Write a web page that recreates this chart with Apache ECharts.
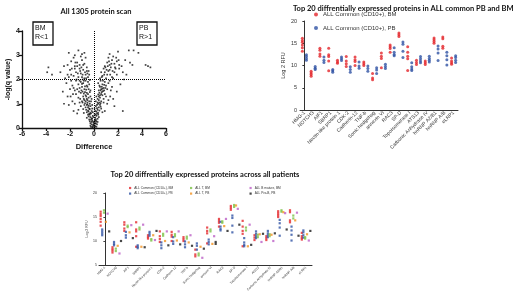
<!DOCTYPE html>
<html lang="en">
<head>
<meta charset="UTF-8">
<title>protein scan</title>
<script src="https://cdn.jsdelivr.net/npm/echarts@6/dist/echarts.min.js"></script>
<style>
  html, body { margin: 0; padding: 0; background: #fff; }
  #chart { width: 520px; height: 300px; }
</style>
</head>
<body>
<div id="chart"></div>
<script>
  // volcano plot, [difference, -log(q value)]
  let volcano = [
    [-0.1,0.05],[0,0.1],[0.1,0.08],[-0.2,0.15],[0.15,0.2],[-0.05,0.25],[-0.3,0.2],[0.05,0.3],[0.25,0.15],[-0.15,0.3],
    [0.2,0.28],[-0.25,0.05],[0.1,0.18],[-0.08,0.12],[0.3,0.25],[-0.35,0.28],[0,0.22],[-0.12,0.02],[0.05,0.04],[-0.02,0.16],
    [-0.4,0.35],[-0.3,0.45],[-0.2,0.4],[-0.1,0.5],[0.1,0.42],[0.2,0.5],[0.3,0.38],[-0.5,0.55],[0.35,0.55],[-0.45,0.48],
    [0.05,0.58],[-0.25,0.6],[0.25,0.6],[-0.6,0.42],[0.4,0.45],[-0.15,0.38],[0.15,0.35],[-0.35,0.55],
    [-0.6,0.65],[-0.5,0.72],[-0.4,0.8],[-0.3,0.9],[-0.7,0.85],[-0.8,0.95],[-0.2,0.7],[0.2,0.68],[0.3,0.75],[0.4,0.85],
    [0.5,0.95],[0.35,0.62],[0.6,0.8],[-0.9,0.78],[-0.55,0.98],[0.15,0.9],[-1.1,0.9],[-1.7,0.7],[0.9,0.7],[2.4,0.7],
    [-1.4,0.6],[0.7,0.65],[-0.15,0.95],[0.45,0.72],[-0.45,0.68],[-0.65,0.75],[0.25,0.82],[-0.35,0.78],
    [-1.2,1.05],[-1,1.1],[-0.8,1.15],[-0.6,1.2],[-0.4,1.1],[-0.3,1.3],[-0.5,1.4],[-0.7,1.35],[-0.9,1.3],[-1.1,1.45],
    [-1.3,1.25],[-1.5,1.4],[0.3,1.05],[0.4,1.15],[0.5,1.25],[0.6,1.1],[0.7,1.35],[0.8,1.2],[0.45,1.45],[0.9,1.4],
    [1.0,1.3],[1.2,1.15],[-0.2,1.2],[0.2,1.3],[-1.8,1.1],[-2.2,1.3],[1.6,1.2],[-0.35,1.48],[0.65,1.48],[-0.75,1.02],
    [-1.6,1.0],[-0.55,1.05],[-0.85,1.42],[0.35,1.38],[0.55,1.02],[-0.45,1.25],
    [-1.6,1.55],[-1.4,1.6],[-1.2,1.65],[-1,1.7],[-0.8,1.6],[-0.6,1.75],[-0.4,1.8],[-0.3,1.55],[-0.5,1.9],[-0.7,1.95],
    [-0.9,1.85],[-1.1,1.9],[-1.3,1.8],[-1.5,1.95],[-1.8,1.75],[-2,1.6],[0.4,1.55],[0.5,1.7],[0.6,1.6],[0.7,1.8],
    [0.8,1.65],[0.9,1.9],[1.0,1.75],[1.1,1.6],[1.2,1.85],[1.3,1.95],[0.55,1.95],[0.75,1.52],[-2.3,1.85],[-2.6,1.5],
    [1.5,1.7],[-0.35,1.98],[0.35,1.85],[-1.9,1.95],[-1.7,1.65],[1.4,1.55],[-0.65,1.58],[-1.05,1.55],[0.85,1.78],
    [-2.4,2.05],[-2.1,2.1],[-1.9,2.2],[-1.7,2.15],[-1.5,2.3],[-1.3,2.1],[-1.1,2.25],[-0.9,2.4],[-0.7,2.2],[-0.5,2.1],
    [-0.6,2.35],[-1.2,2.45],[-1.6,2.45],[-2,2.4],[-0.8,2.05],[0.5,2.05],[0.7,2.15],[0.9,2.3],[1.1,2.2],[1.3,2.4],
    [1.5,2.1],[1.7,2.3],[1.9,2.2],[2.1,2.45],[0.8,2.45],[1.0,2.05],[1.2,2.35],[1.4,2.5],[1.6,2.05],[2.4,2.3],
    [2.7,2.2],[-3.9,2.3],[-3.5,2.2],[-2.8,2.3],[0.6,2.3],[-1.0,2.1],[1.8,2.45],[-0.4,2.2],
    [-2.2,2.6],[-1.9,2.75],[-1.6,2.55],[-1.4,2.7],[-1.2,2.6],[-1,2.8],[-0.8,2.65],[-0.6,2.5],[-1.7,2.9],[-1.1,2.95],
    [0.9,2.55],[1.1,2.7],[1.3,2.6],[1.5,2.8],[1.7,2.65],[1.9,2.75],[2.1,2.6],[1.2,2.9],[1.6,2.95],[2.3,2.55],
    [3.0,2.7],[3.2,2.6],[4.3,2.6],[4.7,2.5],[4.5,2.55],[-3.8,2.5],[2.6,2.8],[-2.5,2.55],[-0.7,2.9],
    [-1.3,3.2],[-1.0,3.05],[-2.1,3.1],[-0.8,3.1],[2.0,3.15],[2.9,3.2],[3.3,3.2],[1.3,3.05],[-1.6,3.0],[3.7,3.1],
    [-0.25,0.35],[-0.3,0.62],[-0.4,0.58],[-0.5,0.85],[-0.6,0.95],[-0.45,0.92],[-0.7,1.1],[-0.55,1.15],[-0.65,1.3],[-0.85,1.2],
    [-0.95,1.5],[-0.75,1.48],[-0.6,1.45],[-0.45,1.6],[-0.55,1.7],[-0.75,1.72],[-0.85,1.95],[-1.0,1.82],[-1.2,1.95],[-0.95,2.0],
    [-0.65,2.05],[-0.45,2.35],[-0.55,2.25],[-0.75,2.3],[-0.95,2.2],[-1.15,2.35],[-1.35,2.25],[-1.45,2.0],[-1.25,1.5],[-1.15,1.2],
    [-0.95,1.05],[-0.35,1.0],[-0.25,1.1],[-0.15,0.8],[-0.1,0.65],[-0.05,0.45],[-0.2,0.25],[-0.3,0.1],[-1.4,2.55],[-1.85,2.45],
    [-1.55,2.7],[-0.9,2.6],[-1.05,2.5],[-2.2,2.2],[-1.75,1.4],[-1.95,1.3],[-2.1,0.95],[-1.3,0.75],[-0.85,0.62],[-2.5,1.0],
    [0.15,0.55],[0.1,0.7],[0.25,0.95],[0.35,1.0],[0.3,1.2],[0.5,1.35],[0.4,1.3],[0.6,1.4],[0.55,1.55],[0.65,1.7],
    [0.45,1.75],[0.7,1.62],[0.85,1.55],[0.95,1.65],[0.75,1.95],[0.65,2.1],[0.85,2.2],[1.05,2.4],[0.95,2.5],[1.15,2.55],
    [1.25,2.75],[1.45,2.65],[1.35,2.2],[1.55,2.35],[1.75,2.5],[1.85,2.9],[2.05,2.8],[0.55,0.88],[0.45,1.05],[0.8,1.05],
    [1.1,1.0],[1.35,1.3],[1.9,1.5],[1.7,0.9],[0.15,1.1],[0.05,0.8],[0.2,0.05],[0.12,0.3],[2.2,1.8],[2.5,2.0]
  ];

  let proteins = ['HMG-1', 'NOTCH3', 'AIF1', 'SBRP1', 'Nectin-like protein 1', 'CDK-2', 'Cadherin-12', 'TNF-b',
    'Sonic hedgehog', 'annexin VI', 'RAC3', 'SP-D', 'Topoisomerase I', 'ATS13', 'Carbonic Anhydrase IV',
    'hnRNP A2/B1', 'hnRNP A/B', 'eLRP1'];

  // Log 2 RFU replicates per protein
  let commonBM = [[16.1, 15.6, 15.2, 14.6, 14.0, 13.2], [8.7, 8.3, 8.0, 7.6], [13.9, 13.4, 12.6, 12.1], [13.9, 12.4, 12.0, 11.0, 8.8],
    [11.2, 10.8, 10.5], [12.0, 11.0, 10.4, 9.8], [11.9, 11.3, 10.9, 10.0], [10.8, 10.4, 10.0], [8.2, 7.2, 6.8],
    [12.8, 12.1, 11.6, 9.5], [14.6, 14.2, 13.8, 13.0], [17.3, 16.9, 16.5], [14.2, 13.0, 12.1, 11.5, 8.9], [11.2, 10.7, 10.2],
    [11.0, 10.6, 10.2], [16.2, 15.8, 15.4, 15.0], [16.4, 16.0, 14.3, 13.9], [11.7, 11.0, 10.6, 10.3]];
  let commonPB = [[12.4, 12.0, 11.6, 11.2], [9.8, 9.4, 9.1], [11.9, 11.2, 10.7], [9.1, 8.8, 8.5], [11.9, 11.5, 11.1],
    [9.7, 9.1, 8.5], [10.8, 9.9, 9.4], [9.9, 9.3, 8.7], [9.5, 9.0, 8.2], [10.3, 9.8, 9.3], [14.0, 13.0, 12.5, 12.2],
    [15.3, 14.8, 13.2, 11.8], [10.6, 9.7, 9.2, 8.9], [12.0, 11.5, 11.0, 10.6], [12.1, 11.6, 11.2, 10.8],
    [14.4, 13.7, 12.8, 11.1], [13.0, 12.2, 11.3, 10.1], [12.2, 11.8, 11.2, 10.7]];
  let tBM = [[16.4, 15.9], [8.4, 7.9], [13.2, 12.9], [12.8, 12.4], [10.4, 10.1], [11.5, 11.1], [11.4, 11.0], [10.9, 10.5],
    [7.4, 7.0], [12.4, 12.0], [14.1, 13.8], [17.5, 17.1], [12.8, 12.2], [11.3, 10.8], [11.4, 11.0], [16.4, 16.1],
    [15.3, 14.7], [10.8, 10.5]];
  let tPB = [[14.0], [9.0], [11.8], [8.8], [11.2], [10.0], [10.1], [9.7], [8.8], [9.4], [13.1], [17.4], [8.9], [11.4],
    [11.3], [16.0], [14.3], [11.4]];
  let bMatureBM = [[15.7], [7.4], [13.3], [13.4], [10.2], [12.0], [12.0], [11.2], [6.5], [11.0], [14.6], [16.7], [13.4],
    [9.8], [10.0], [15.8], [15.9], [10.1]];
  let proBPB = [[12.0], [10.0], [10.6], [8.7], [12.1], [9.1], [9.3], [9.0], [8.4], [9.8, 9.4], [12.1], [13.4], [9.2],
    [11.5], [11.6], [12.4], [11.1], [12.1]];

  let names = ['ALL Common (CD10+), BM', 'ALL Common (CD10+), PB', 'ALL T, BM', 'ALL T, PB', 'ALL B mature, BM', 'ALL Pro-B, PB'];
  let colors = ['#e3262b', '#2f52a4', '#79c043', '#f39220', '#bb5fc6', '#1a1a1a'];

  function toPoints(groups, offset) {
    return groups.flatMap((vals, i) => vals.map(v => [i + offset, v]));
  }

  let arial = 'Liberation Sans';
  let titleFont = 'Lato';

  function catAxis(grid, size) {
    return {
      type: 'category', gridIndex: grid, data: proteins,
      axisLine: { lineStyle: { color: '#333', width: 1 } },
      axisTick: { alignWithLabel: true, length: 2, lineStyle: { color: '#333' } },
      axisLabel: { rotate: 45, interval: 0, fontSize: size, color: '#333', margin: 2, fontFamily: arial }
    };
  }
  function hiddenAxis(grid) {
    return { type: 'value', gridIndex: grid, min: -0.5, max: 17.5, show: false, splitLine: { show: false } };
  }

  let series = [{
    type: 'scatter', xAxisIndex: 0, yAxisIndex: 0, data: volcano,
    symbol: 'rect', symbolSize: 1.7, itemStyle: { color: '#111' }, silent: true,
    markLine: {
      silent: true, symbol: ['none', 'none'], label: { show: false },
      lineStyle: { type: 'dotted', color: '#000', width: 1 },
      data: [{ yAxis: 2 }, { xAxis: 0 }]
    }
  }];

  // top right: common ALL, BM vs PB
  [[commonBM, -0.23], [commonPB, 0.23]].forEach((g, k) => {
    series.push({
      type: 'scatter', name: names[k], xAxisIndex: 2, yAxisIndex: 1,
      data: toPoints(g[0], g[1]), symbolSize: 3, itemStyle: { color: colors[k] }
    });
  });

  // bottom: all groups
  let groups = [commonBM, commonPB, tBM, tPB, bMatureBM, proBPB];
  let offsets = [-0.36, -0.23, -0.08, 0.08, 0.23, 0.36];
  groups.forEach((g, k) => {
    series.push({
      type: 'scatter', name: names[k], xAxisIndex: 4, yAxisIndex: 2,
      data: toPoints(g, offsets[k]), symbol: 'rect', symbolSize: 2.2, itemStyle: { color: colors[k] }
    });
  });

  function smallLegend(items, left) {
    return {
      data: items, left: left, top: 186.5, orient: 'vertical', itemGap: 2.6, itemWidth: 2.2, itemHeight: 2.2,
      icon: 'rect', padding: 0, selectedMode: false,
      textStyle: { fontSize: 3.2, color: '#333', fontFamily: arial, padding: [0, 0, 0, -2] }
    };
  }

  let option = {
    animation: false,
    color: colors,
    title: [
      { text: 'All 1305 protein scan', left: 91, top: 3, textAlign: 'center', textStyle: { fontSize: 7.5, fontWeight: 'bold', fontFamily: titleFont, color: '#111' } },
      { text: 'Top 20 diffrentially expressed proteins in ALL common PB and BM', left: 288, top: 0, textStyle: { fontSize: 7.5, fontWeight: 'bold', fontFamily: titleFont, color: '#111' } },
      { text: 'Top 20 diffrentially expressed proteins across all patients', left: 200, top: 166, textAlign: 'center', textStyle: { fontSize: 7.5, fontWeight: 'bold', fontFamily: titleFont, color: '#111' } }
    ],
    legend: [
      {
        data: names.slice(0, 2), left: 314, top: 11.5, orient: 'vertical', itemGap: 7.5, itemWidth: 4, itemHeight: 4,
        icon: 'circle', padding: 0, selectedMode: false,
        textStyle: { fontSize: 6, color: '#333', fontFamily: arial }
      },
      smallLegend(names.slice(0, 2), 129),
      smallLegend(names.slice(2, 4), 190),
      smallLegend(names.slice(4, 6), 249.5)
    ],
    grid: [
      { left: 22, top: 31, width: 144, height: 97 },
      { left: 300, top: 21, width: 158, height: 89 },
      { left: 99, top: 193, width: 213, height: 72 }
    ],
    xAxis: [
      {
        type: 'value', gridIndex: 0, min: -6, max: 6, interval: 2, splitLine: { show: false },
        name: 'Difference', nameLocation: 'middle', nameGap: 15,
        nameTextStyle: { fontSize: 7.5, fontWeight: 'bold', fontFamily: arial, color: '#111' },
        axisLine: { onZero: false, lineStyle: { color: '#111', width: 1.3 } },
        axisTick: { length: 3, lineStyle: { color: '#111', width: 1.3 } },
        axisLabel: { fontSize: 7, fontWeight: 'bold', color: '#111', margin: 3, fontFamily: arial }
      },
      catAxis(1, 5),
      hiddenAxis(1),
      catAxis(2, 3.2),
      hiddenAxis(2)
    ],
    yAxis: [
      {
        type: 'value', gridIndex: 0, min: 0, max: 4, interval: 1, splitLine: { show: false },
        name: '-log(q value)', nameLocation: 'middle', nameGap: 10,
        nameTextStyle: { fontSize: 7, fontWeight: 'bold', fontFamily: arial, color: '#111' },
        axisLine: { show: true, onZero: false, lineStyle: { color: '#111', width: 1.3 } },
        axisTick: { show: true, length: 3, lineStyle: { color: '#111', width: 1.3 } },
        axisLabel: { fontSize: 7, fontWeight: 'bold', color: '#111', margin: 2, fontFamily: arial }
      },
      {
        type: 'value', gridIndex: 1, min: 0, max: 20, interval: 5, splitLine: { show: false },
        name: 'Log 2 RFU', nameLocation: 'middle', nameGap: 13,
        nameTextStyle: { fontSize: 5.5, color: '#333', fontFamily: arial },
        axisLine: { show: true, lineStyle: { color: '#333', width: 1 } },
        axisTick: { show: true, length: 2, lineStyle: { color: '#333' } },
        axisLabel: { fontSize: 5.5, color: '#333', margin: 3, fontFamily: arial }
      },
      {
        type: 'value', gridIndex: 2, min: 5, max: 20, interval: 5, splitLine: { show: false },
        name: 'Log 2 RFU', nameLocation: 'middle', nameGap: 8,
        nameTextStyle: { fontSize: 3.5, color: '#333', fontFamily: arial },
        axisLine: { show: true, lineStyle: { color: '#333', width: 1 } },
        axisTick: { show: true, length: 1.5, lineStyle: { color: '#333' } },
        axisLabel: { fontSize: 3.5, color: '#333', margin: 2, fontFamily: arial }
      }
    ],
    graphic: [
      { type: 'rect', shape: { x: 33, y: 22, width: 20, height: 23 }, style: { fill: '#fff', stroke: '#111', lineWidth: 1.3 } },
      { type: 'text', x: 35, y: 24, style: { text: 'BM\nR<1', fontSize: 7, lineHeight: 9, fontFamily: arial, fill: '#111' } },
      { type: 'rect', shape: { x: 137, y: 22, width: 20, height: 23 }, style: { fill: '#fff', stroke: '#111', lineWidth: 1.3 } },
      { type: 'text', x: 139, y: 24, style: { text: 'PB\nR>1', fontSize: 7, lineHeight: 9, fontFamily: arial, fill: '#111' } }
    ],
    series: series
  };

  let chart = echarts.init(document.getElementById('chart'));
  chart.setOption(option);
</script>
</body>
</html>
